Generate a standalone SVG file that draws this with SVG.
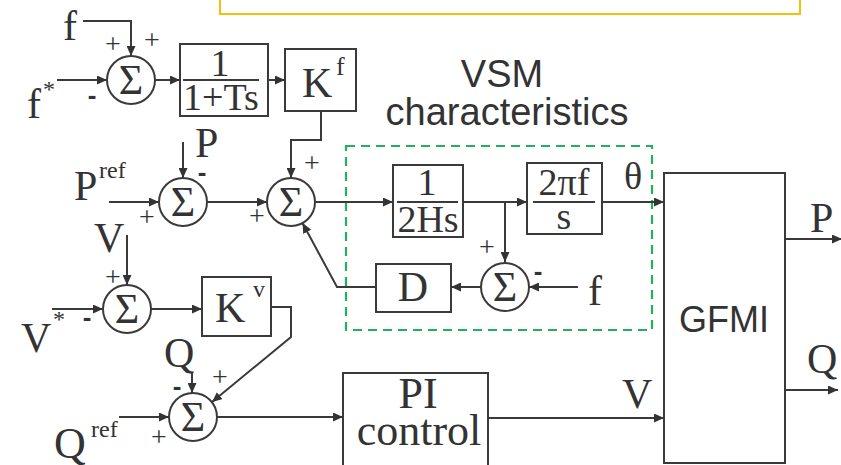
<svg xmlns="http://www.w3.org/2000/svg" width="841" height="465" viewBox="0 0 841 465">
<defs>
<marker id="ah" markerUnits="userSpaceOnUse" markerWidth="11" markerHeight="9" refX="10" refY="4.5" orient="auto">
<path d="M0,0 L10,4.5 L0,9 Z" fill="#333"/>
</marker>
<style>
.ln{fill:none;stroke:#3a3a3a;stroke-width:2}
.ar{fill:none;stroke:#3a3a3a;stroke-width:2;marker-end:url(#ah)}
.bx{fill:#fff;stroke:#3a3a3a;stroke-width:2}
.ci{fill:#fff;stroke:#3a3a3a;stroke-width:2}
.t{font-family:"Liberation Serif","Times New Roman",serif;fill:#333}
.big{font-size:42px}
.frac{font-size:38px}
.sig{font-size:42px;text-anchor:middle}
.sup{font-size:24px}
.pl{font-family:"Liberation Serif",serif;font-size:28px;fill:#333;text-anchor:middle}
.mi{font-family:"Liberation Sans",Arial,sans-serif;font-weight:bold;font-size:26px;fill:#333;text-anchor:middle}
.ss{font-family:"Liberation Sans",Arial,sans-serif;fill:#333}
.mid{text-anchor:middle}
</style>
</defs>
<rect width="841" height="465" fill="#fff"/>
<rect x="220" y="-10" width="580" height="24" fill="none" stroke="#F5BE0A" stroke-width="2"/>
<g id="vsm-region">
<rect x="346" y="146" width="306" height="184" fill="none" stroke="#22B05C" stroke-width="2.2" stroke-dasharray="9 6"/>
<text class="ss mid" x="502" y="87" font-size="38">VSM</text>
<text class="ss mid" x="507" y="125" font-size="38">characteristics</text>
</g>
<g id="connectors">
<polyline class="ar" points="83,21 131,21 131,56"/>
<line class="ar" x1="57" y1="80" x2="107" y2="80"/>
<line class="ar" x1="155" y1="80" x2="180" y2="80"/>
<line class="ar" x1="268" y1="80" x2="285" y2="80"/>
<polyline class="ar" points="321,111 321,140 291,140 291,178"/>
<line class="ar" x1="109" y1="202" x2="159" y2="202"/>
<line class="ar" x1="183" y1="142" x2="183" y2="178"/>
<line class="ar" x1="207" y1="202" x2="267" y2="202"/>
<line class="ar" x1="315" y1="202" x2="393" y2="202"/>
<line class="ar" x1="463" y1="202" x2="527" y2="202"/>
<line class="ar" x1="505" y1="202" x2="505" y2="262"/>
<line class="ar" x1="602" y1="202" x2="664" y2="202"/>
<line class="ar" x1="578" y1="287" x2="529" y2="287"/>
<line class="ar" x1="481" y1="287" x2="451" y2="287"/>
<polyline class="ar" points="376,287 337,287 302.5,223"/>
<line class="ar" x1="127" y1="235" x2="127" y2="285"/>
<line class="ar" x1="52" y1="309" x2="103" y2="309"/>
<line class="ar" x1="151" y1="309" x2="202" y2="309"/>
<polyline class="ar" points="271,307 291,307 291,337 212,402"/>
<line class="ar" x1="192" y1="372" x2="192" y2="393"/>
<line class="ar" x1="119" y1="417" x2="169" y2="417"/>
<line class="ar" x1="217" y1="417" x2="343" y2="417"/>
<line class="ar" x1="488" y1="418" x2="664" y2="418"/>
<line class="ar" x1="785" y1="239" x2="842" y2="239"/>
<line class="ar" x1="785" y1="390" x2="838" y2="390"/>
</g>
<g id="sum-f">
<circle class="ci" cx="131" cy="80" r="24"/>
<text class="t sig" x="131" y="94">Σ</text>
<text class="pl" x="113" y="53">+</text>
<text class="pl" x="152" y="49">+</text>
<text class="mi" x="92" y="104">-</text>
</g>
<g id="in-f"><text class="t big" x="63" y="40">f</text></g>
<g id="in-fstar"><text class="t big" x="27" y="118">f</text><text class="t sup" x="43" y="97">*</text></g>
<g id="lowpass">
<rect class="bx" x="180" y="44" width="88" height="72"/>
<line class="ln" x1="183" y1="80" x2="259" y2="80"/>
<text class="t frac mid" x="220" y="76">1</text>
<text class="t frac mid" x="221" y="110">1+Ts</text>
</g>
<g id="kf">
<rect class="bx" x="285" y="49" width="71" height="62"/>
<text class="t big" x="302" y="97">K</text>
<text class="t" x="336" y="75" font-size="26">f</text>
</g>
<g id="in-pref"><text class="t big" x="74" y="200">P</text><text class="t sup" x="99" y="178">ref</text></g>
<g id="in-p"><text class="t big" x="195" y="157">P</text></g>
<g id="sum-p">
<circle class="ci" cx="183" cy="202" r="24"/>
<text class="t sig" x="183" y="216">Σ</text>
<text class="mi" x="202" y="181">-</text>
<text class="pl" x="147" y="226">+</text>
</g>
<g id="sum-main">
<circle class="ci" cx="291" cy="202" r="24"/>
<text class="t sig" x="291" y="216">Σ</text>
<text class="pl" x="257" y="225">+</text>
<text class="pl" x="312" y="172">+</text>
</g>
<g id="inertia">
<rect class="bx" x="393" y="165" width="70" height="72"/>
<line class="ln" x1="397" y1="202" x2="458" y2="202"/>
<text class="t frac mid" x="427" y="195">1</text>
<text class="t frac mid" x="428" y="232">2Hs</text>
</g>
<g id="integrator">
<rect class="bx" x="527" y="163" width="75" height="71"/>
<line class="ln" x1="533" y1="202" x2="595" y2="202"/>
<text class="t frac mid" x="564" y="195">2πf</text>
<text class="t frac mid" x="564" y="229">s</text>
</g>
<g id="theta-label"><text class="t" x="624" y="189" font-size="38">θ</text></g>
<g id="sum-d">
<circle class="ci" cx="505" cy="287" r="24"/>
<text class="t sig" x="505" y="301">Σ</text>
<text class="pl" x="487" y="256">+</text>
<text class="mi" x="538" y="280">-</text>
</g>
<g id="in-f2"><text class="t big" x="588" y="305">f</text></g>
<g id="damping">
<rect class="bx" x="376" y="264" width="75" height="48"/>
<text class="t big mid" x="413" y="301">D</text>
</g>
<g id="in-v"><text class="t big" x="94" y="252">V</text></g>
<g id="in-vstar"><text class="t big" x="21" y="352">V</text><text class="t sup" x="53" y="327">*</text></g>
<g id="sum-v">
<circle class="ci" cx="127" cy="309" r="24"/>
<text class="t sig" x="127" y="323">Σ</text>
<text class="pl" x="113" y="286">+</text>
<text class="mi" x="87" y="326">-</text>
</g>
<g id="kv">
<rect class="bx" x="202" y="277" width="69" height="59"/>
<text class="t big" x="215" y="322">K</text>
<text class="t sup" x="253" y="297">v</text>
</g>
<g id="in-q"><text class="t big" x="164" y="367">Q</text></g>
<g id="in-qref"><text class="t" x="54" y="458" font-size="44">Q</text><text class="t sup" x="91" y="437">ref</text></g>
<g id="sum-q">
<circle class="ci" cx="193" cy="417" r="24"/>
<text class="t sig" x="193" y="431">Σ</text>
<text class="mi" x="177" y="395">-</text>
<text class="pl" x="220" y="386">+</text>
<text class="pl" x="159" y="446">+</text>
</g>
<g id="pi-control">
<rect class="bx" x="343" y="373" width="145" height="100"/>
<text class="t mid" x="418" y="408" font-size="44">PI</text>
<text class="t mid" x="419" y="445" font-size="44">control</text>
</g>
<g id="v-label"><text class="t big" x="622" y="408">V</text></g>
<g id="gfmi">
<rect class="bx" x="664" y="173" width="121" height="290"/>
<text class="ss mid" x="724" y="332" font-size="36">GFMI</text>
</g>
<g id="out-p"><text class="t big" x="810" y="232">P</text></g>
<g id="out-q"><text class="t big" x="807" y="373">Q</text></g>
</svg>
